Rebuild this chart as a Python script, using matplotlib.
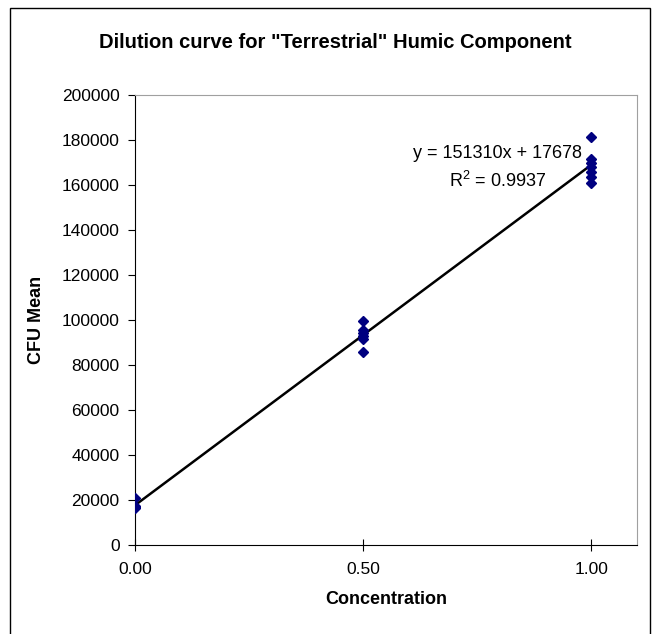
import matplotlib.pyplot as plt
from matplotlib.patches import Rectangle

plt.rcParams['font.family'] = ['Liberation Sans', 'DejaVu Sans']
plt.rcParams['mathtext.fontset'] = 'custom'
plt.rcParams['mathtext.rm'] = 'Liberation Sans'

# data
conc_0 = [0.0, 0.0, 0.0, 0.0]
cfu_0 = [20900, 17200, 16800, 16400]
conc_05 = [0.5, 0.5, 0.5, 0.5, 0.5, 0.5]
cfu_05 = [99700, 95600, 94200, 92800, 91600, 86000]
conc_1 = [1.0, 1.0, 1.0, 1.0, 1.0, 1.0, 1.0]
cfu_1 = [181500, 171400, 169600, 167900, 165900, 163700, 161000]

# trendline shown on chart
slope = 151310
intercept = 17678
r2 = 0.9937

x = conc_0 + conc_05 + conc_1
y = cfu_0 + cfu_05 + cfu_1

fig = plt.figure(figsize=(6.57, 6.34), dpi=100)
ax = fig.add_axes([135 / 657, 1 - 545 / 634, 502 / 657, 450 / 634])

# outer chart frame
fig.patches.append(Rectangle((10 / 657, -0.1), 640 / 657, 1.1 - 8 / 634,
                             transform=fig.transFigure, fill=False,
                             edgecolor='black', linewidth=1.0))

line_x = [0.0, 1.0]
line_y = [intercept + slope * v for v in line_x]
ax.plot(line_x, line_y, color='black', linewidth=1.8, zorder=2)
ax.plot(x, y, linestyle='none', marker='D', markersize=4.6,
        color='#000080', zorder=3)

ax.set_xlim(0, 1.1)
ax.set_ylim(0, 200000)
ax.set_xticks([0, 0.5, 1.0])
ax.set_xticklabels(['0.00', '0.50', '1.00'])
ax.set_yticks(range(0, 200001, 20000))

ax.spines['top'].set_color('#a0a0a0')
ax.spines['right'].set_color('#a0a0a0')
ax.spines['left'].set_color('black')
ax.spines['bottom'].set_color('black')
ax.tick_params(axis='x', direction='inout', length=9, labelsize=12.5, pad=8)
ax.tick_params(axis='y', direction='out', length=5, labelsize=12.5, pad=6)

ax.set_xlabel('Concentration', fontsize=13, fontweight='bold', labelpad=10)
ax.set_ylabel('CFU Mean', fontsize=13, fontweight='bold', labelpad=12)

fig.text(0.51, 1 - 43 / 634, 'Dilution curve for "Terrestrial" Humic Component',
         ha='center', va='center', fontsize=14.5, fontweight='bold')

ax.text(0.795, 173800, 'y = 151310x + 17678', ha='center', va='center', fontsize=13)
ax.text(0.795, 161800, r'R$^2$ = ' + f'{r2:.4f}', ha='center', va='center', fontsize=13)

fig.savefig('out.png', dpi=100)
